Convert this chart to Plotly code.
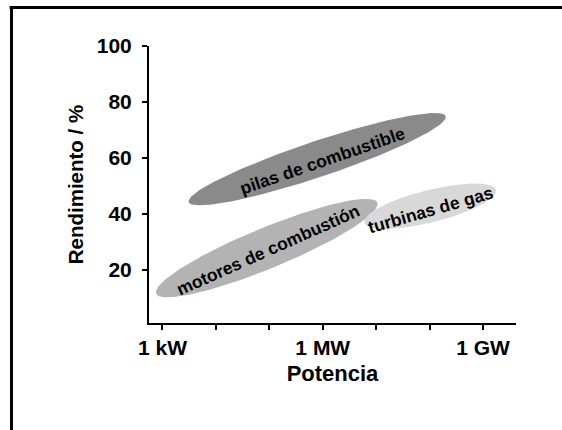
import numpy as np
import plotly.graph_objects as go

# ---- data ----
regions = ["pilas de combustible", "motores de combustión", "turbinas de gas"]
# long-axis end points of each region (power in W, efficiency in %)
start_power_W = [3.1e3, 7.6e2, 6.0e6]
start_eff = [44.2, 11.5, 36.9]
end_power_W = [2.0e8, 1.05e7, 1.74e9]
end_eff = [74.9, 44.0, 48.6]
half_width_pct = [6.4, 7.3, 5.8]
# label anchor positions
label_power_W = [9.7e5, 9.5e4, 1.04e8]
label_eff = [58.8, 27.0, 41.3]
label_angle = [-19, -24, -16]
fill_colors = ["#8a8a8a", "#b3b3b3", "#d8d8d8"]

x_tickvals = [1e3, 1e4, 1e5, 1e6, 1e7, 1e8, 1e9]
x_ticktext = ["1 kW", "", "", "1 MW", "", "", "1 GW"]
y_tickvals = [20, 40, 60, 80, 100]

# ---- layout geometry ----
W, H = 562, 430
ml, mr, mt, mb = 149, 46, 46, 107
x_range_log = [2.748, 9.616]
y_range = [1, 100]
pw, ph = W - ml - mr, H - mt - mb
K = (pw / (x_range_log[1] - x_range_log[0])) / (ph / (y_range[1] - y_range[0]))

fig = go.Figure()
t = np.linspace(0, 2 * np.pi, 240)
for i, name in enumerate(regions):
    u1, v1 = np.log10(start_power_W[i]) * K, start_eff[i]
    u2, v2 = np.log10(end_power_W[i]) * K, end_eff[i]
    uc, vc = (u1 + u2) / 2, (v1 + v2) / 2
    a = np.hypot(u2 - u1, v2 - v1) / 2
    b = half_width_pct[i]
    th = np.arctan2(v2 - v1, u2 - u1)
    u = uc + a * np.cos(th) * np.cos(t) - b * np.sin(th) * np.sin(t)
    v = vc + a * np.sin(th) * np.cos(t) + b * np.cos(th) * np.sin(t)
    fig.add_trace(go.Scatter(
        x=10 ** (u / K), y=v, mode="lines", fill="toself",
        fillcolor=fill_colors[i], line=dict(width=0, color=fill_colors[i]),
        name=name, hoverinfo="skip", showlegend=False))

for i, name in enumerate(regions):
    fig.add_annotation(
        x=np.log10(label_power_W[i]), y=label_eff[i], text=name,
        showarrow=False, textangle=label_angle[i],
        font=dict(family="Liberation Sans, Arial", size=17.5, color="black", weight="bold"))

axis_font = dict(family="Liberation Sans, Arial", size=21, color="black", weight="bold")
fig.update_xaxes(
    type="log", range=x_range_log, tickvals=x_tickvals, ticktext=x_ticktext,
    ticks="outside", ticklen=5, tickwidth=2, tickcolor="black",
    showline=True, linewidth=2, linecolor="black", showgrid=False, zeroline=False,
    tickfont=axis_font,
    title=dict(text="Potencia", font=dict(family="Liberation Sans, Arial", size=22, color="black", weight="bold"), standoff=7))
fig.update_yaxes(
    range=y_range, tickvals=y_tickvals,
    ticks="outside", ticklen=5, tickwidth=2, tickcolor="black",
    showline=True, linewidth=2, linecolor="black", showgrid=False, zeroline=False,
    tickfont=axis_font, ticklabelstandoff=6,
    title=dict(text="Rendimiento / %", font=dict(family="Liberation Sans, Arial", size=20.5, color="black", weight="bold"), standoff=8))

# decorative frame (left and top border)
fx = (11.5 - ml) / pw
fy = (H - mb - 7.5) / ph
fx_right = (W - ml) / pw
fig.add_shape(type="line", xref="paper", yref="paper", x0=fx, x1=fx, y0=-0.5, y1=fy,
              line=dict(color="black", width=3), layer="above")
fig.add_shape(type="line", xref="paper", yref="paper", x0=fx - 0.005, x1=fx_right, y0=fy, y1=fy,
              line=dict(color="black", width=3), layer="above")

fig.update_layout(
    width=W, height=H, margin=dict(l=ml, r=mr, t=mt, b=mb, autoexpand=False),
    plot_bgcolor="white", paper_bgcolor="white", showlegend=False)

fig.write_html("out.html", config={"displayModeBar": False},
               post_script="document.body.style.margin='0';")
